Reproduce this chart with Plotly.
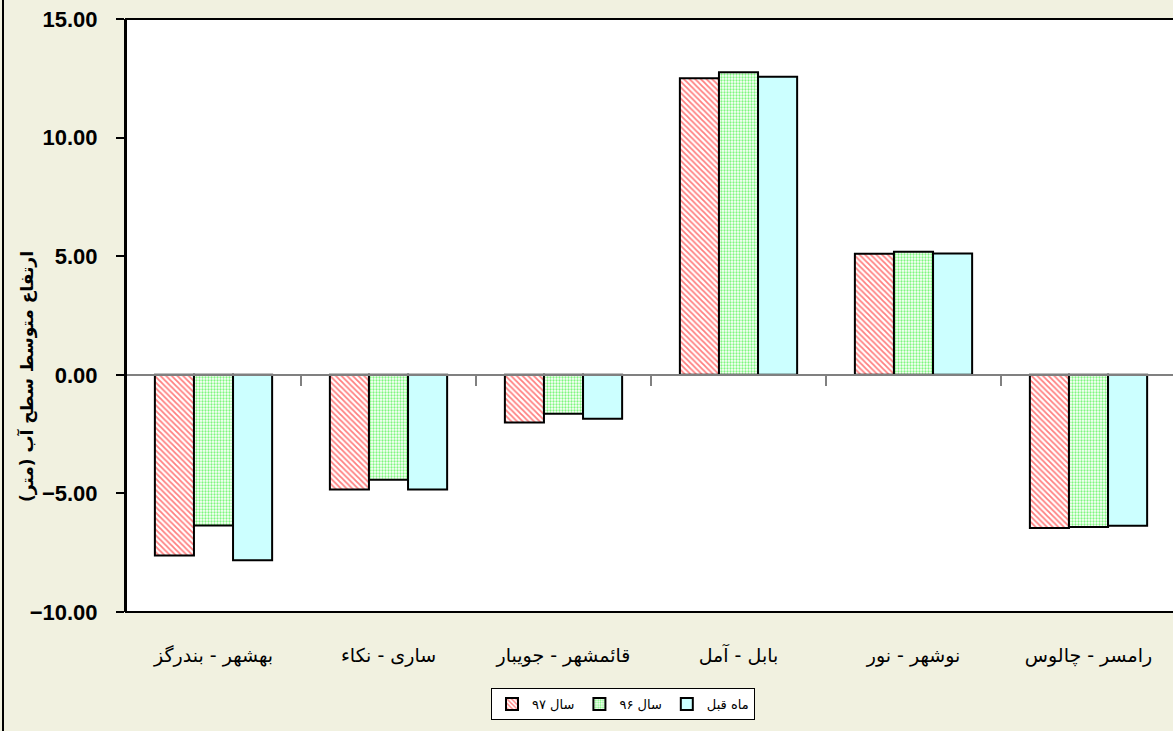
import plotly.graph_objects as go

categories = ["بهشهر - بندرگز", "ساری - نکاء", "قائمشهر - جویبار", "بابل - آمل", "نوشهر - نور", "رامسر - چالوس"]
series_names = ["سال ۹۷", "سال ۹۶", "ماه قبل"]
values_97 = [-7.62, -4.84, -2.01, 12.50, 5.10, -6.46]
values_96 = [-6.35, -4.42, -1.64, 12.75, 5.19, -6.42]
values_prev = [-7.82, -4.84, -1.85, 12.57, 5.11, -6.36]
y_ticks = [-10, -5, 0, 5, 10, 15]
y_title = "ارتفاع متوسط سطح آب (متر)"

W, H = 1173, 731
ML, MT, MB = 126, 19, 119
plot_w = W - ML
plot_h = H - MT - MB
cat_px = 175.0

fig = go.Figure()
fig.add_trace(go.Bar(
    x=categories, y=values_97, name=series_names[0],
    marker=dict(color="white", line=dict(color="black", width=2),
                pattern=dict(shape="\\", fgcolor="#FF0000", bgcolor="white", size=4, solidity=0.45)),
))
fig.add_trace(go.Bar(
    x=categories, y=values_96, name=series_names[1],
    marker=dict(color="white", line=dict(color="black", width=2),
                pattern=dict(shape=".", fgcolor="#00EE00", bgcolor="white", size=3, solidity=0.45)),
))
fig.add_trace(go.Bar(
    x=categories, y=values_prev, name=series_names[2],
    marker=dict(color="#CCFFFF", line=dict(color="black", width=2)),
))

ymin, ymax = y_ticks[0], y_ticks[-1]
zero_frac = (0 - ymin) / (ymax - ymin)

fig.update_layout(
    width=W, height=H,
    margin=dict(l=ML, r=0, t=MT, b=MB, pad=0),
    paper_bgcolor="#F1F1E0",
    plot_bgcolor="white",
    barmode="group",
    bargap=0.33,
    bargroupgap=0,
    showlegend=True,
    hovermode=False,
    legend=dict(
        orientation="h",
        x=(623 - ML) / plot_w, xanchor="center",
        y=-(688 - (MT + plot_h)) / plot_h, yanchor="top",
        bgcolor="white", bordercolor="black", borderwidth=1,
        font=dict(family="DejaVu Sans", size=13, color="black"),
        traceorder="normal",
    ),
    xaxis=dict(
        type="category",
        range=[-0.5, -0.5 + plot_w / cat_px],
        anchor="free", position=zero_frac,
        showline=True, linecolor="#808080", linewidth=1.5,
        ticks="outside", tickson="boundaries", ticklen=10, tickwidth=1.5, tickcolor="#808080",
        ticklabelstandoff=264,
        tickfont=dict(family="DejaVu Sans", size=19, color="black"),
        showgrid=False, zeroline=False, fixedrange=True,
    ),
    yaxis=dict(
        range=[ymin, ymax],
        tickvals=y_ticks, tickformat=".2f",
        showline=True, linecolor="black", linewidth=2,
        ticks="outside", ticklen=8, tickwidth=1.5, tickcolor="black",
        ticklabelstandoff=14,
        tickfont=dict(family="Liberation Sans", size=22, color="black", weight="bold"),
        showgrid=False, zeroline=False, fixedrange=True,
    ),
    shapes=[
        dict(type="rect", xref="paper", yref="paper", x0=0, x1=1.05, y0=0, y1=1,
             line=dict(color="black", width=2), layer="above"),
        dict(type="line", xref="paper", yref="paper",
             x0=(3 - ML) / plot_w, x1=(3 - ML) / plot_w,
             y0=-(H - (MT + plot_h)) / plot_h, y1=(MT + plot_h) / plot_h,
             line=dict(color="black", width=2)),
    ],
    annotations=[
        dict(text=y_title, xref="paper", yref="paper",
             x=(27 - ML) / plot_w, y=((MT + plot_h) - 377) / plot_h,
             xanchor="center", yanchor="middle", textangle=-90, showarrow=False,
             font=dict(family="DejaVu Sans", size=17, color="black", weight="bold")),
    ],
)

fig.write_html("out.html", config={"displayModeBar": False},
               post_script="document.body.style.margin='0px'; document.body.style.overflow='hidden';")
